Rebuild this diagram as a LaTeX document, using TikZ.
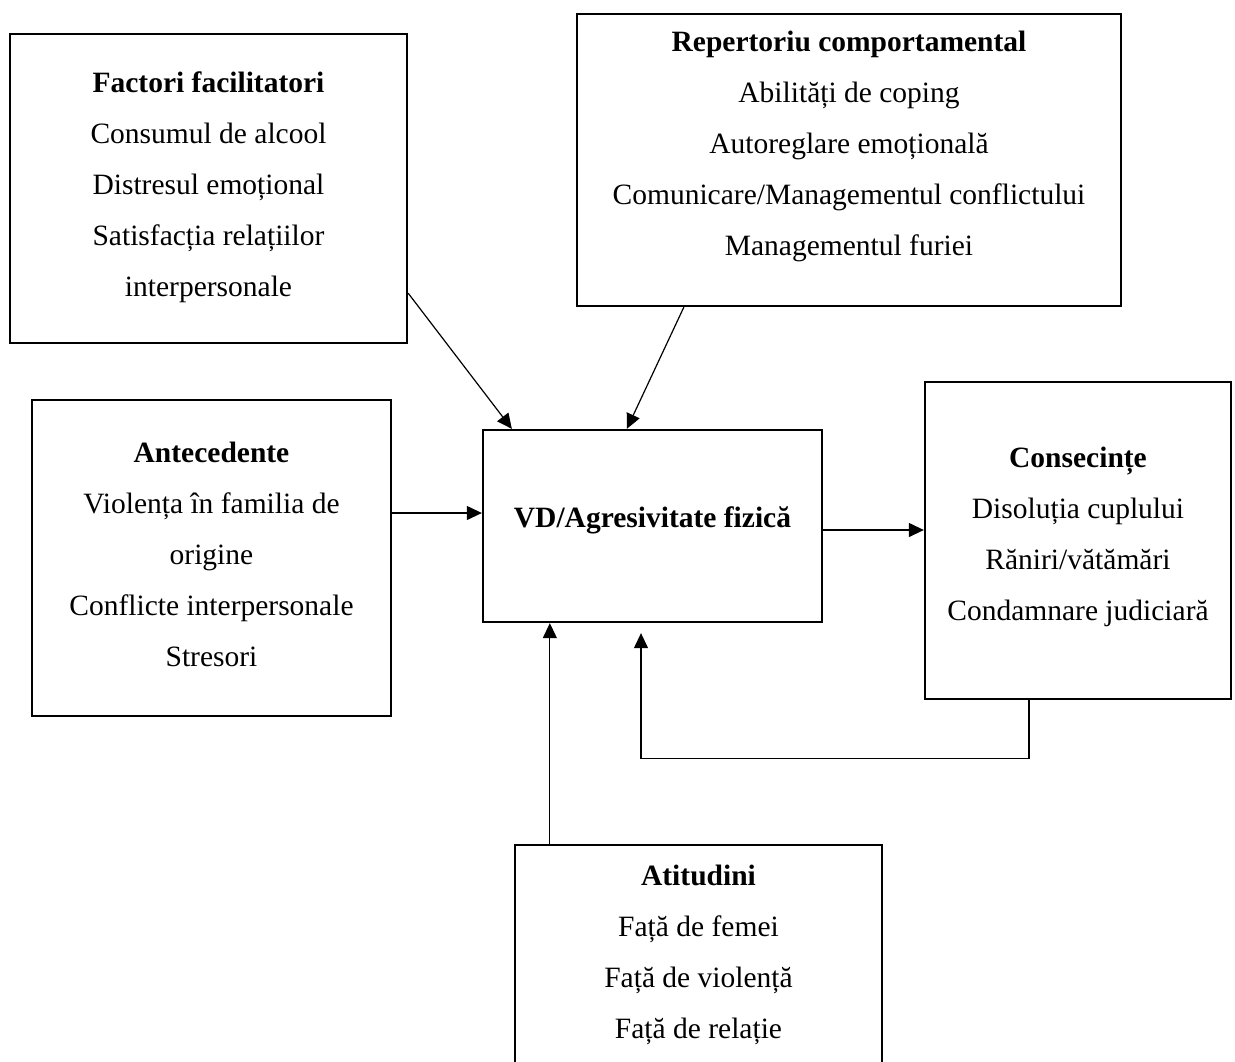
\documentclass[tikz,border=0pt]{standalone}
\usepackage{fontspec}
\setmainfont{Liberation Serif}
\usetikzlibrary{arrows.meta}
\begin{document}
\begin{tikzpicture}[x=1pt,y=-1pt,
  box/.style={draw,line width=2.3pt,rectangle,inner sep=0pt},
  txt/.style={align=center,inner sep=0pt,font=\fontsize{29.5}{51}\selectfont},
  arr/.style={line width=1.2pt,-{Triangle[length=15pt,width=14pt]}}]
\clip (0,0) rectangle (1235,1061);
\fill[white] (0,0) rectangle (1235,1061);

% boxes
\node[box,minimum width=397pt,minimum height=309pt] (fac) at (208.5,188.5) {};
\node[box,minimum width=544pt,minimum height=292pt] (rep) at (849,160) {};
\node[box,minimum width=359pt,minimum height=316pt] (ant) at (211.5,558) {};
\node[box,minimum width=339pt,minimum height=192pt] (vd) at (652.5,526) {};
\node[box,minimum width=306pt,minimum height=317pt] (con) at (1078,540.5) {};
\node[box,minimum width=367pt,minimum height=275pt] (att) at (698.5,982.5) {};

% box texts
\node[txt] (facT) at (208.5,187) {\textbf{Factori facilitatori}\\Consumul de alcool\\Distresul emoțional\\Satisfacția relațiilor\\interpersonale};
\node[txt] (repT) at (849,146.5) {\textbf{Repertoriu comportamental}\\Abilități de coping\\Autoreglare emoțională\\Comunicare/Managementul conflictului\\Managementul furiei};
\node[txt] (antT) at (211.5,554) {\textbf{Antecedente}\\Violența în familia de\\origine\\Conflicte interpersonale\\Stresori};
\node[txt] (vdT) at (652.5,520) {\textbf{VD/Agresivitate fizică}};
\node[txt] (conT) at (1078,537) {\textbf{Consecințe}\\Disoluția cuplului\\Răniri/vătămări\\Condamnare judiciară};
\node[txt] (attT) at (698.5,954.5) {\textbf{Atitudini}\\Față de femei\\Față de violență\\Față de relație};

% connector end points
\coordinate (facout) at ([yshift=51pt]fac.south east);
\coordinate (vdinA) at ([xshift=30pt]vd.north west);
\coordinate (repout) at ([xshift=108pt]rep.south west);
\coordinate (vdinB) at ([xshift=145pt]vd.north west);
\coordinate (antout) at ([yshift=45pt]ant.east);
\coordinate (vdout) at ([yshift=-4pt]vd.east);
\coordinate (attout) at ([xshift=36pt]att.north west);
\coordinate (conout) at ([xshift=-49pt]con.south);
\coordinate (vdinC) at ([xshift=-11.5pt,yshift=-10pt]vd.south);

% connectors
\draw[arr] (facout) -- (vdinA);
\draw[arr] (repout) -- (vdinB);
\draw[arr] (antout) -- (antout -| vd.west);
\draw[arr] (vdout) -- (vdout -| con.west);
\draw[arr] (attout) -- (attout |- vd.south);
\draw[arr] (conout) -- ++(0,58) -| (vdinC);
\end{tikzpicture}
\end{document}
